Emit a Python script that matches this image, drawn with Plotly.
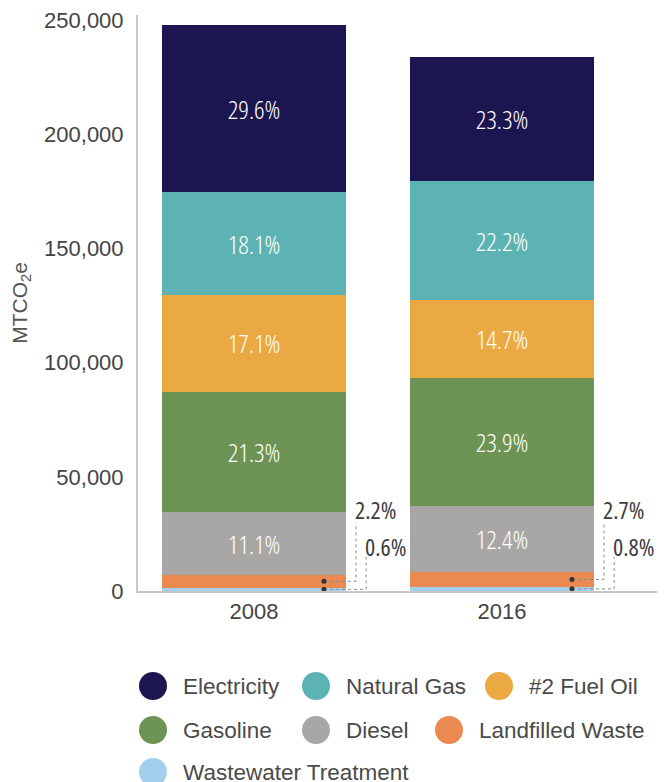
import plotly.graph_objects as go

# data
years = ["2008", "2016"]
sources = ["Electricity", "Natural Gas", "#2 Fuel Oil", "Gasoline", "Diesel",
           "Landfilled Waste", "Wastewater Treatment"]
colors = ["#1c1650", "#5db3b3", "#eaa942", "#6d9454", "#a8a7a5", "#ea8a50", "#a3cfec"]

# MTCO2e per source
electricity = [73400, 54500]
natural_gas = [44900, 51900]
fuel_oil = [42400, 34400]
gasoline = [52800, 55900]
diesel = [27500, 29000]
landfill = [5460, 6320]
wastewater = [1490, 1870]

# share labels printed on the bars
pct_electricity = ["29.6%", "23.3%"]
pct_natural_gas = ["18.1%", "22.2%"]
pct_fuel_oil = ["17.1%", "14.7%"]
pct_gasoline = ["21.3%", "23.9%"]
pct_diesel = ["11.1%", "12.4%"]
pct_landfill = ["2.2%", "2.7%"]
pct_wastewater = ["0.6%", "0.8%"]

# page has an 8px body margin, so the figure is drawn 8px in from the corner
OFF = 8
W, H = 665 - OFF, 782 - OFF
ML, MR, MT, MB = 138 - OFF, 4, 15 - OFF, 191
PW, PH = W - ML - MR, H - MT - MB

AXIS_FONT = "Liberation Sans, Arial, sans-serif"
LABEL_FONT = "Open Sans, sans-serif"


def narrow(t):
    # condensed cut of Open Sans for the percentage labels
    return '<span style="font-stretch:condensed">%s</span>' % t


xpos = list(range(len(years)))

fig = go.Figure()

# stack from the bottom up; the two thin segments get callouts instead
stack = [
    (wastewater, None),
    (landfill, None),
    (diesel, pct_diesel),
    (gasoline, pct_gasoline),
    (fuel_oil, pct_fuel_oil),
    (natural_gas, pct_natural_gas),
    (electricity, pct_electricity),
]
names_bottom_up = list(reversed(sources))
colors_bottom_up = list(reversed(colors))
for (vals, labels), name, color in zip(stack, names_bottom_up, colors_bottom_up):
    fig.add_trace(go.Bar(
        x=xpos, y=vals, name=name, marker_color=color, marker_line_width=0,
        width=0.742, showlegend=False,
        text=[narrow(t) for t in labels] if labels else None,
        textposition="inside" if labels else "none",
        insidetextanchor="middle", textangle=0, constraintext="none",
        textfont=dict(family=LABEL_FONT, size=26, color="white", weight=300),
        hoverinfo="name+y",
    ))

annotations = []
callouts = [
    # values, labels, segment base, line x offset, line top, label y, label x offset
    (landfill, pct_landfill, wastewater, 0.411, 29800, 35500, 0.399),
    (wastewater, pct_wastewater, [0, 0], 0.452, 14900, 19700, 0.440),
]
for vals, labels, base, lx, ltop, ly, tx in callouts:
    for i in xpos:
        mid = base[i] + vals[i] / 2
        fig.add_trace(go.Scatter(
            x=[i + 0.282, i + lx, i + lx], y=[mid, mid, ltop], mode="lines",
            line=dict(color="#8a8a8a", width=1, dash="dot"),
            showlegend=False, hoverinfo="skip"))
        fig.add_trace(go.Scatter(
            x=[i + 0.282], y=[mid], mode="markers",
            marker=dict(color="#333333", size=5),
            showlegend=False, hoverinfo="skip"))
        annotations.append(dict(
            x=i + tx, y=ly, xref="x", yref="y", text=narrow(labels[i]), showarrow=False,
            xanchor="left", yanchor="middle",
            font=dict(family=LABEL_FONT, size=24, color="#3d3d3d", weight=400)))


def px(x):
    return (x - OFF - ML) / PW


def py(y):
    return (H - MB - (y - OFF)) / PH


# hand-drawn legend so the circles can be large
legend_rows = [
    [(0, 153), (1, 316), (2, 499)],
    [(3, 153), (4, 316), (5, 449)],
    [(6, 153)],
]
legend_y = [686, 730, 772]
shapes = []
for row, cy in zip(legend_rows, legend_y):
    for idx, cx in row:
        shapes.append(dict(
            type="circle", xref="paper", yref="paper",
            xsizemode="pixel", ysizemode="pixel",
            xanchor=px(cx), yanchor=py(cy), x0=-14, x1=14, y0=-14, y1=14,
            fillcolor=colors[idx], line_width=0))
        annotations.append(dict(
            x=px(cx + 28), y=py(cy), xref="paper", yref="paper",
            text=sources[idx], showarrow=False, xanchor="left", yanchor="middle",
            font=dict(family=AXIS_FONT, size=22.5, color="#4a4a4a")))

fig.update_layout(
    width=W, height=H,
    margin=dict(l=ML, r=MR, t=MT, b=MB, autoexpand=False),
    barmode="stack",
    plot_bgcolor="white", paper_bgcolor="white",
    font=dict(family=AXIS_FONT, color="#4a4a4a"),
    shapes=shapes, annotations=annotations,
    showlegend=False,
)
fig.update_xaxes(
    range=[-0.468, 1.641], tickvals=xpos, ticktext=years,
    showgrid=False, zeroline=False, showline=True, linecolor="#cbc7c7", linewidth=2,
    ticks="", tickfont=dict(size=22, color="#444444"),
)
fig.update_yaxes(
    range=[0, 252200], tickvals=[0, 50000, 100000, 150000, 200000, 250000],
    tickformat=",d", showgrid=False, zeroline=False, showline=True,
    linecolor="#cbc7c7", linewidth=2, ticks="", ticklabelstandoff=8,
    ticklabeloverflow="allow",
    tickfont=dict(size=22, color="#444444"),
    title=dict(text="MTCO<sub>2</sub>e", font=dict(size=21, color="#555555"), standoff=16),
)

fig.write_html("out.html")
